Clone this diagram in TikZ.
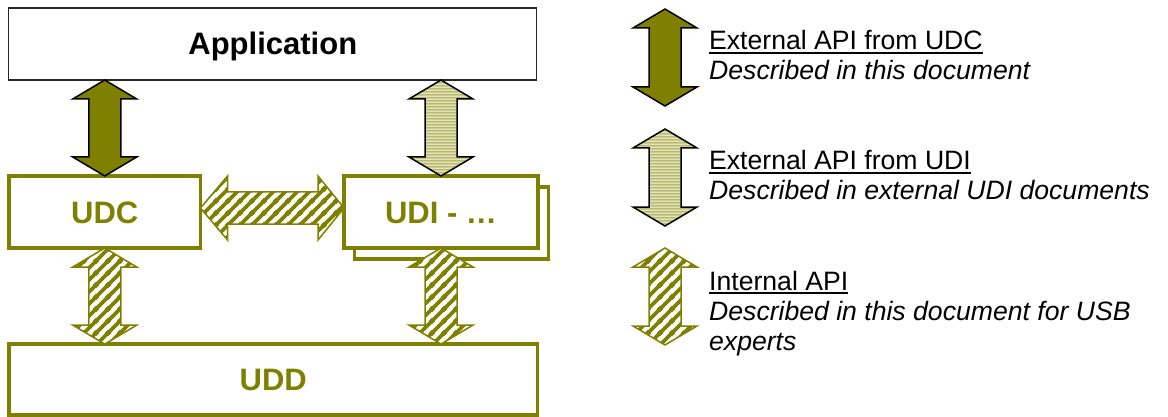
\documentclass[tikz,border=0pt]{standalone}
\usepackage{fontspec}
\setmainfont{Liberation Sans}
\usetikzlibrary{calc,patterns}

\definecolor{olivegreen}{HTML}{808000}
\definecolor{lightolive}{HTML}{E4E4BA}
\definecolor{midolive}{HTML}{A3A34C}

% fine horizontal stripes for the UDI interface arrows
\pgfdeclarepatternformonly{hstripes}{\pgfqpoint{0pt}{0pt}}{\pgfqpoint{3pt}{3pt}}{\pgfqpoint{3pt}{3pt}}{%
  \pgfsetlinewidth{1.5pt}%
  \pgfpathmoveto{\pgfqpoint{-1pt}{1.5pt}}\pgfpathlineto{\pgfqpoint{4pt}{1.5pt}}%
  \pgfusepath{stroke}}

% wide diagonal stripes for the internal interface arrows
\pgfdeclarepatternformonly{dstripes}{\pgfqpoint{0pt}{0pt}}{\pgfqpoint{12pt}{12pt}}{\pgfqpoint{12pt}{12pt}}{%
  \pgfsetlinewidth{4pt}%
  \pgfpathmoveto{\pgfqpoint{-1pt}{-1pt}}\pgfpathlineto{\pgfqpoint{13pt}{13pt}}%
  \pgfpathmoveto{\pgfqpoint{-2pt}{10pt}}\pgfpathlineto{\pgfqpoint{2pt}{14pt}}%
  \pgfpathmoveto{\pgfqpoint{10pt}{-2pt}}\pgfpathlineto{\pgfqpoint{14pt}{2pt}}%
  \pgfusepath{stroke}}

% underlined text with a solid rule
\newcommand\ulined[1]{\setbox0\hbox{#1}\rlap{\rule[-3.6pt]{\wd0}{1.9pt}}\box0}

% vertical double block arrow: style, top tip, bottom tip
\newcommand\vblock[3]{%
  \path[#1] (#2) -- ++(32,19) -- ++(-16,0) -- ($(#3)+(16,-19)$) -- ++(16,0)
    -- (#3) -- ++(-32,-19) -- ++(16,0) -- ($(#2)+(-16,19)$) -- ++(-16,0) -- cycle;}

% horizontal double block arrow: style, left tip, right tip
\newcommand\hblock[3]{%
  \path[#1] (#2) -- ++(27,-32) -- ++(0,16) -- ($(#3)+(-26,-16)$) -- ++(0,-16)
    -- (#3) -- ++(-26,32) -- ++(0,-16) -- ($(#2)+(27,16)$) -- ++(0,16) -- cycle;}

\begin{document}
\begin{tikzpicture}[x=1pt,y=-1pt,
  labelfont/.style={font=\bfseries\fontsize{31}{31}\selectfont, text height=22pt, text depth=0pt},
  appbox/.style={draw=black!85, line width=1.2pt, fill=white, outer sep=0pt, inner sep=0pt, labelfont},
  layer/.style={draw=olivegreen, line width=3.5pt, fill=white, outer sep=0pt, inner sep=0pt,
    text=olivegreen, labelfont},
  extdark/.style={draw=black, line width=1.5pt, fill=olivegreen},
  extlight/.style={draw=black, line width=1.5pt, preaction={fill=lightolive},
    pattern=hstripes, pattern color=midolive},
  internal/.style={draw=olivegreen, line width=1.5pt, preaction={fill=white},
    pattern=dstripes, pattern color=olivegreen},
  legendtext/.style={anchor=base west, inner sep=0pt, font=\fontsize{26.6}{30}\selectfont},
]
\useasboundingbox (0,0) rectangle (1168,417);

% layers
\node[appbox, minimum width=528pt, minimum height=72pt] (app) at (272.8,44) {Application};
\node[layer, minimum width=191.5pt, minimum height=72pt] (udc) at (104.75,212) {UDC};
\node[layer, minimum width=194pt, minimum height=72pt] (udiback) at (451.5,223) {};
\node[layer, minimum width=194pt, minimum height=72pt] (udi) at (441,212) {UDI - …};
\node[layer, minimum width=528.5pt, minimum height=71pt] (udd) at (273.3,379.6) {UDD};

% interfaces between the layers
\coordinate (appudc) at (app.south -| udc.north);
\coordinate (appudi) at (app.south -| udi.north);
\coordinate (uddudc) at (udc.south |- udd.north);
\coordinate (uddudi) at (udi.south |- udd.north);
\coordinate (udcright) at ($(udc.east)+(0,-4)$);
\coordinate (udileft) at ($(udi.west)+(0,-4)$);

\vblock{extdark}{appudc}{udc.north}
\vblock{extlight}{appudi}{udi.north}
\hblock{internal}{udcright}{udileft}
\vblock{internal}{udc.south}{uddudc}
\vblock{internal}{udi.south}{uddudi}

% legend
\coordinate (keyAtop) at (665,9);   \coordinate (keyAbot) at (665,106);
\coordinate (keyBtop) at (665,129); \coordinate (keyBbot) at (665,226);
\coordinate (keyCtop) at (665,248); \coordinate (keyCbot) at (665,345);
\vblock{extdark}{keyAtop}{keyAbot}
\vblock{extlight}{keyBtop}{keyBbot}
\vblock{internal}{keyCtop}{keyCbot}

\node[legendtext] (legAa) at (709,50) {\ulined{External API from UDC}};
\node[legendtext] (legAb) at (709,80) {\itshape Described in this document};
\node[legendtext] (legBa) at (709,170) {\ulined{External API from UDI}};
\node[legendtext] (legBb) at (709,200) {\itshape Described in external UDI documents};
\node[legendtext] (legCa) at (709,290) {\ulined{Internal API}};
\node[legendtext] (legCb) at (709,320) {\itshape Described in this document for USB};
\node[legendtext] (legCc) at (709,350) {\itshape experts};
\end{tikzpicture}
\end{document}
